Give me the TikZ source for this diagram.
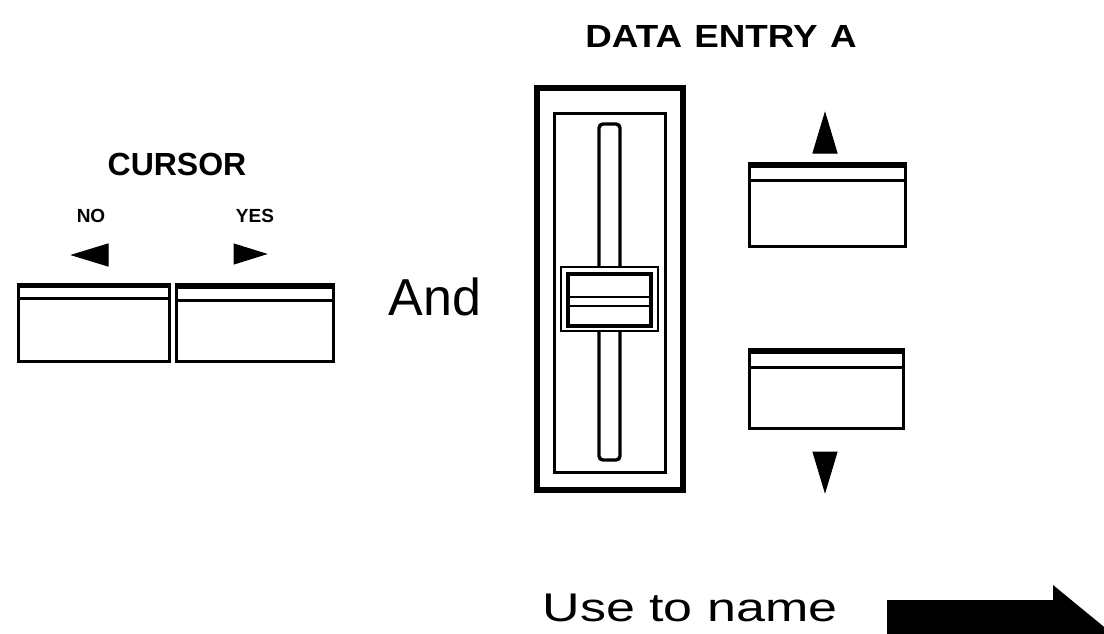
\documentclass[tikz,border=0pt]{standalone}
\usepackage{fontspec}
\setmainfont{Liberation Sans}
\usepackage{tikz}
\usetikzlibrary{positioning}

\begin{document}
\begin{tikzpicture}[
    x=0.5pt, y=-0.5pt,
    keybox/.style = {draw=black, fill=white, line width=1.5pt},
    keytop/.style = {draw=black, line width=2.5pt},
    keyline/.style = {draw=black, line width=1.5pt},
    tip/.style = {fill=black, draw=black, line width=0.5pt, line join=miter},
    heading/.style = {inner sep=0pt, anchor=base, font=\bfseries\fontsize{16}{18}\selectfont},
    tiny/.style = {inner sep=0pt, anchor=base, font=\bfseries\fontsize{9.5}{11}\selectfont},
    word/.style = {inner sep=0pt, anchor=base, font=\fontsize{26}{30}\selectfont},
  ]
    \useasboundingbox (0,0) rectangle (1104,633);

    % Cursor keys
    \node[heading] (cursor) at (177,175) {CURSOR};
    \node[tiny] (no)  at (91,222)  {NO};
    \node[tiny] (yes) at (255,222) {YES};
    \draw[tip] (72,255) -- (108,244) -- (108,266) -- cycle;
    \draw[tip] (234,244) -- (266,254) -- (234,264) -- cycle;

    \draw[keybox] (18,284) rectangle (169,361);
    \draw[keytop] (18,285) -- (169,285);
    \draw[keyline] (18,298) -- (169,298);
    \draw[keybox] (176,284) rectangle (333,361);
    \draw[keytop] (176,286) -- (333,286);
    \draw[keyline] (176,300) -- (333,300);

    \node[word] (and) at (435,315) {And};

    % Data entry slider
    \node[heading] (entry) at (721,47) {\scalebox{1.15}[1]{DATA\,\,ENTRY\,\,A}};
    \draw[line width=2.6pt] (537,88) rectangle (683,490);
    \draw[line width=1.5pt] (554,113) rectangle (665,472);
    \draw[line width=1.7pt, rounded corners=2pt] (599,124) rectangle (620,460);
    \draw[line width=1.3pt, fill=white] (561,267) rectangle (658,331);
    \draw[line width=2pt, fill=white] (568,274) rectangle (651,326);
    \draw[line width=1.3pt] (568,297) -- (651,297);
    \draw[line width=1.3pt] (568,306) -- (651,306);

    % Up / down keys
    \draw[tip] (813,153) -- (837,153) -- (825,113) -- cycle;
    \draw[keybox] (749,163) rectangle (905,246);
    \draw[keytop] (749,165) -- (905,165);
    \draw[keyline] (749,180) -- (905,180);
    \draw[keybox] (749,349) rectangle (903,428);
    \draw[keytop] (749,351) -- (903,351);
    \draw[keyline] (749,367) -- (903,367);
    \draw[tip] (813,452) -- (837,452) -- (825,492) -- cycle;

    % Footer
    \node[word, font=\fontsize{20}{24}\selectfont] (use) at (690,621) {\scalebox{1.3}[1]{Use to name}};
    \begin{scope}
      \clip (0,0) rectangle (1104,633);
      \fill (887,600) -- (1053,600) -- (1053,585) -- (1120,640) -- (1053,695) -- (887,695) -- cycle;
    \end{scope}
\end{tikzpicture}
\end{document}
